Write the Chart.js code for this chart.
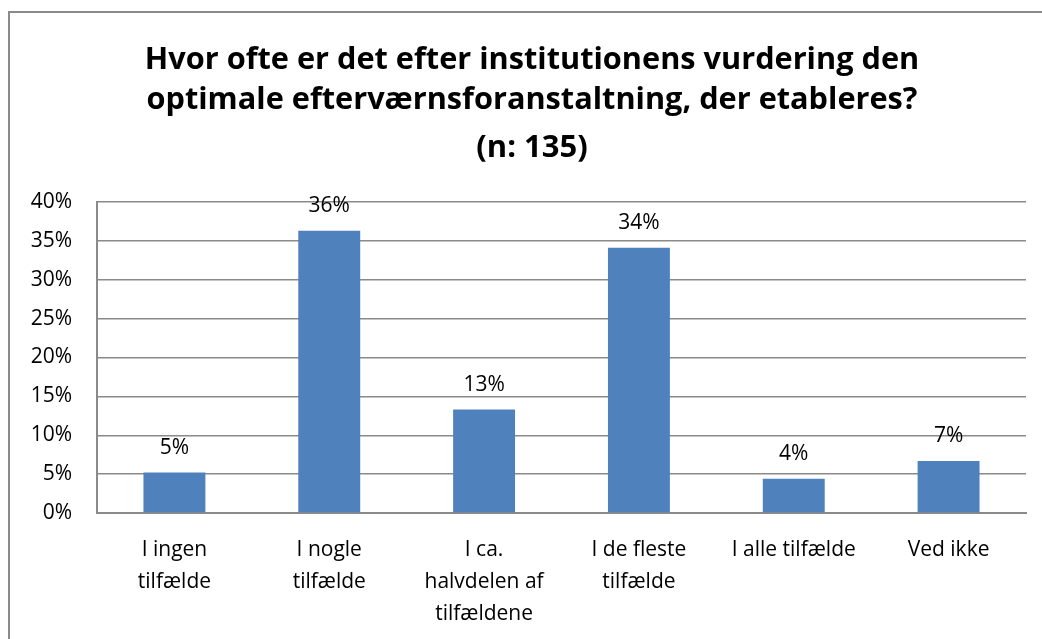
<!DOCTYPE html>
<html>
<head>
<meta charset="utf-8">
<script src="https://cdn.jsdelivr.net/npm/chart.js@4.4.1/dist/chart.umd.min.js"></script>
<style>
    body { margin: 0; background: #ffffff; }
    #wrap { width: 1042px; height: 639px; position: relative; }
</style>
</head>
<body>
<div id="wrap"><canvas id="chart"></canvas></div>
<script>
/* global Chart */

const titleLines = [
    'Hvor ofte er det efter institutionens vurdering den',
    'optimale efterværnsforanstaltning, der etableres?'
];
const subtitleText = '(n: 135)';
const categories = [
    ['I ingen', 'tilfælde'],
    ['I nogle', 'tilfælde'],
    ['I ca.', 'halvdelen af', 'tilfældene'],
    ['I de fleste', 'tilfælde'],
    ['I alle tilfælde'],
    ['Ved ikke']
];
const shares = [5.2, 36.3, 13.3, 34.1, 4.4, 6.7];
const yTicks = [0, 5, 10, 15, 20, 25, 30, 35, 40];

const fontFamily = '"Open Sans", Lato, sans-serif';
const lineGray = '#8a8a8a';

// Frame like the Excel chart border (only top and left edge are visible)
const chartFrame = {
    id: 'chartFrame',
    beforeDraw: (chart) => {
        const ctx = chart.ctx;
        ctx.save();
        ctx.fillStyle = '#ffffff';
        ctx.fillRect(0, 0, chart.width, chart.height);
        ctx.strokeStyle = lineGray;
        ctx.lineWidth = 2;
        ctx.beginPath();
        ctx.moveTo(9, chart.height);
        ctx.lineTo(9, 12);
        ctx.lineTo(chart.width, 12);
        ctx.stroke();
        ctx.restore();
    }
};

// Title and subtitle sit a little right of the canvas centre in the original
const titleShift = {
    id: 'titleShift',
    afterLayout: (chart) => {
        chart.boxes
            .filter(box => box.options && box.options.position === 'top' && box.options.text)
            .forEach(box => {
                box.left += 22;
            });
    }
};

// Value labels above each bar
const barLabels = {
    id: 'barLabels',
    afterDatasetsDraw: (chart) => {
        const ctx = chart.ctx;
        const meta = chart.getDatasetMeta(0);
        ctx.save();
        ctx.font = '21px ' + fontFamily;
        ctx.fillStyle = '#000000';
        ctx.textAlign = 'center';
        ctx.textBaseline = 'middle';
        meta.data.forEach((bar, i) => {
            ctx.fillText(Math.round(shares[i]) + '%', bar.x, bar.y - 25);
        });
        ctx.restore();
    }
};

const drawChart = () => {
    'use strict';

    const element = document.getElementById('chart');

    const chart = new Chart(element, { // eslint-disable-line no-unused-vars
        type: 'bar',
        data: {
            labels: categories,
            datasets: [{
                data: shares,
                backgroundColor: '#4f81bd',
                borderWidth: 0,
                categoryPercentage: 1,
                barPercentage: 0.4
            }]
        },
        options: {
            responsive: true,
            maintainAspectRatio: false,
            animation: false,
            layout: {
                padding: { left: 16, right: 16, top: 0, bottom: 0 }
            },
            plugins: {
                legend: { display: false },
                tooltip: { enabled: false },
                title: {
                    display: true,
                    text: titleLines,
                    color: '#000000',
                    font: { family: fontFamily, size: 30.7, weight: 'bold', lineHeight: '40px' },
                    padding: { top: 40, bottom: 0 }
                },
                subtitle: {
                    display: true,
                    text: subtitleText,
                    color: '#000000',
                    font: { family: fontFamily, size: 31, weight: 'bold', lineHeight: '40px' },
                    padding: { top: 8, bottom: 34 }
                }
            },
            scales: {
                x: {
                    grid: { display: false, drawTicks: false },
                    border: { display: true, color: lineGray, width: 2 },
                    ticks: {
                        color: '#000000',
                        font: { family: fontFamily, size: 21, lineHeight: '32px' },
                        padding: 21,
                        maxRotation: 0,
                        autoSkip: false
                    },
                    afterFit: (scale) => {
                        scale.height = 126;
                    }
                },
                y: {
                    min: 0,
                    max: 40,
                    afterBuildTicks: (scale) => {
                        scale.ticks = yTicks.map(v => ({ value: v }));
                    },
                    ticks: {
                        color: '#000000',
                        font: { family: fontFamily, size: 21 },
                        padding: 25,
                        callback: (value) => value + '%'
                    },
                    grid: { color: lineGray, lineWidth: 1.5, drawTicks: false },
                    border: { display: true, color: lineGray, width: 2 },
                    afterFit: (scale) => {
                        scale.width = 81;
                    }
                }
            }
        },
        plugins: [chartFrame, titleShift, barLabels]
    });
};

drawChart();
</script>
</body>
</html>
